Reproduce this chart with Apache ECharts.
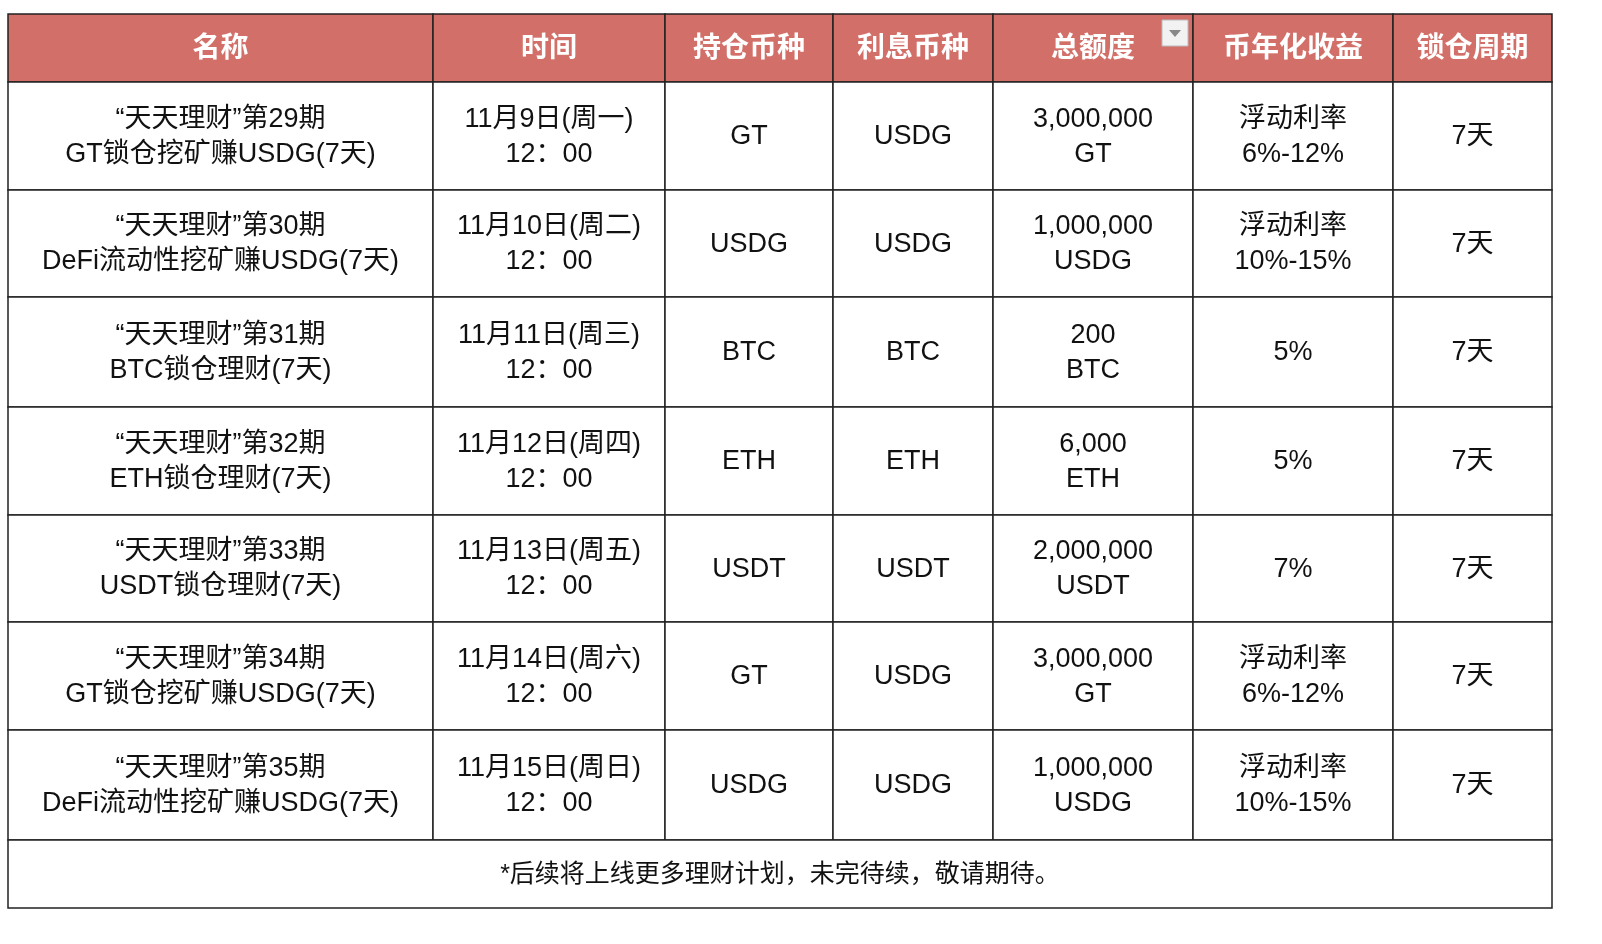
<!DOCTYPE html>
<html>
<head>
<meta charset="utf-8">
<script src="https://cdn.jsdelivr.net/npm/echarts@6/dist/echarts.min.js"></script>
<style>
  html, body { margin: 0; padding: 0; background: #fff; }
  #main { width: 1602px; height: 944px; }
</style>
</head>
<body>
<div id="main"></div>
<script>
// table content
const headers = ['名称', '时间', '持仓币种', '利息币种', '总额度', '币年化收益', '锁仓周期'];
const names = [
    '“天天理财”第29期\nGT锁仓挖矿赚USDG(7天)',
    '“天天理财”第30期\nDeFi流动性挖矿赚USDG(7天)',
    '“天天理财”第31期\nBTC锁仓理财(7天)',
    '“天天理财”第32期\nETH锁仓理财(7天)',
    '“天天理财”第33期\nUSDT锁仓理财(7天)',
    '“天天理财”第34期\nGT锁仓挖矿赚USDG(7天)',
    '“天天理财”第35期\nDeFi流动性挖矿赚USDG(7天)'
];
const times = [
    '11月9日(周一)\n12：00', '11月10日(周二)\n12：00', '11月11日(周三)\n12：00',
    '11月12日(周四)\n12：00', '11月13日(周五)\n12：00', '11月14日(周六)\n12：00',
    '11月15日(周日)\n12：00'
];
const holdCoins = ['GT', 'USDG', 'BTC', 'ETH', 'USDT', 'GT', 'USDG'];
const interestCoins = ['USDG', 'USDG', 'BTC', 'ETH', 'USDT', 'USDG', 'USDG'];
const totals = [
    '3,000,000\nGT', '1,000,000\nUSDG', '200\nBTC', '6,000\nETH',
    '2,000,000\nUSDT', '3,000,000\nGT', '1,000,000\nUSDG'
];
const yields = [
    '浮动利率\n6%-12%', '浮动利率\n10%-15%', '5%', '5%', '7%',
    '浮动利率\n6%-12%', '浮动利率\n10%-15%'
];
const lockPeriods = ['7天', '7天', '7天', '7天', '7天', '7天', '7天'];
const footnote = '*后续将上线更多理财计划，未完待续，敬请期待。';

// layout (pixel grid)
const colEdges = [8, 433, 665, 833, 993, 1193, 1393, 1552];
const rowEdges = [14, 82, 190, 297, 407, 515, 622, 730, 840, 908];
const HEADER_BG = '#d36f69';
const FONT = '"Liberation Sans", "Noto Sans CJK SC", sans-serif';

const columns = [names, times, holdCoins, interestCoins, totals, yields, lockPeriods];
const cells = [];
headers.forEach((h, c) => cells.push([c, 0, h, 1]));
columns.forEach((col, c) => col.forEach((v, r) => cells.push([c, r + 1, v, 0])));
cells.push([0, rowEdges.length - 2, footnote, 2]);

const chart = echarts.init(document.getElementById('main'));
chart.setOption({
    animation: false,
    grid: { left: 0, right: 0, top: 0, bottom: 0 },
    xAxis: { type: 'value', min: 0, max: 1602, show: false },
    yAxis: { type: 'value', min: 0, max: 944, inverse: true, show: false },
    series: [{
        type: 'custom',
        data: cells,
        renderItem: (params, api) => {
            const c = api.value(0), r = api.value(1), kind = api.value(3);
            const text = cells[params.dataIndex][2];
            const x0 = kind === 2 ? colEdges[0] : colEdges[c];
            const x1 = kind === 2 ? colEdges[colEdges.length - 1] : colEdges[c + 1];
            const p0 = api.coord([x0, rowEdges[r]]);
            const p1 = api.coord([x1, rowEdges[r + 1]]);
            const children = [{
                type: 'rect',
                shape: { x: p0[0], y: p0[1], width: p1[0] - p0[0], height: p1[1] - p0[1] },
                style: { fill: kind === 1 ? HEADER_BG : '#fff', stroke: '#222', lineWidth: 1.5 }
            }, {
                type: 'text',
                x: (p0[0] + p1[0]) / 2,
                y: (p0[1] + p1[1]) / 2 + 1,
                style: {
                    text: text,
                    align: 'center',
                    verticalAlign: 'middle',
                    font: (kind === 1 ? 'bold 28px ' : (kind === 2 ? '25px ' : '27px ')) + FONT,
                    lineHeight: 35,
                    fill: kind === 1 ? '#fff' : '#111'
                }
            }];
            if (kind === 1 && c === 4) {
                // filter dropdown marker on the 总额度 header
                children.push({
                    type: 'rect',
                    shape: { x: p1[0] - 31, y: p0[1] + 6, width: 26, height: 26 },
                    style: { fill: '#f2f2f2', stroke: '#bbb', lineWidth: 1 }
                }, {
                    type: 'polygon',
                    shape: { points: [[p1[0] - 24, p0[1] + 16], [p1[0] - 12, p0[1] + 16], [p1[0] - 18, p0[1] + 23]] },
                    style: { fill: '#888' }
                });
            }
            return { type: 'group', children: children };
        }
    }]
});
</script>
</body>
</html>
